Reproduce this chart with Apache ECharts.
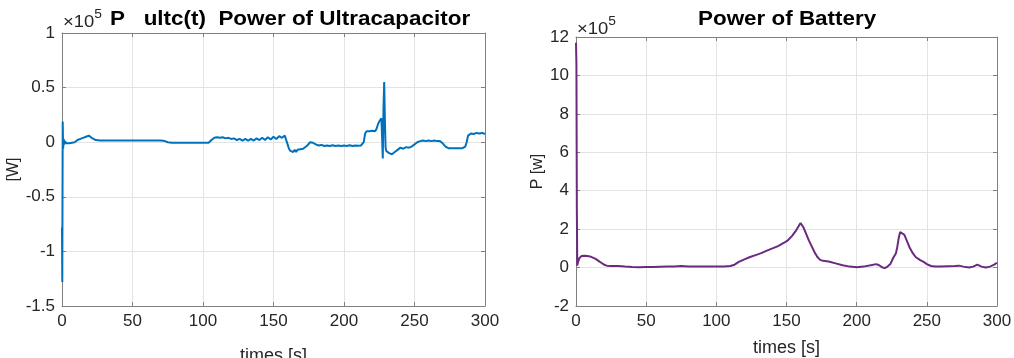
<!DOCTYPE html>
<html><head><meta charset="utf-8">
<script src="https://cdn.jsdelivr.net/npm/echarts@6/dist/echarts.min.js"></script>
<style>html,body{margin:0;padding:0;background:#fff}#c{width:1014px;height:358px}</style>
</head><body><div id="c"></div>
<script>
// Ultracapacitor power (x10^5 W)
const ultcTime = [0,0.2,0.5,0.8,1.2,1.6,2.2,3,4,5,6,7,8,9,10,11,12,13,14,15,16,17,18,19,20,21,22,24,27,30,35,40,45,50,55,60,65,70,73,75,78,85,90,95,100,104,106,108,110,112,114,116,118,120,122,124,126,128,130,132,134,136,138,140,142,144,146,148,150,152,154,156,158,159,160,161,162,163,164,165,166,167,168,169,170,171,172,174,176,177,178,180,182,184,186,188,190,192,194,196,198,200,202,204,206,208,210,212,214,215,216,218,220,222,223,224,225,226,226.5,227,227.5,228,228.5,229,229.5,230,231,232,233,234,235,236,237,238,240,242,244,246,248,250,252,254,256,258,260,262,264,266,268,270,272,274,276,280,284,286,287,288,290,292,294,296,298,300];
const ultcPower = [-0.78,-1.28,0.19,-0.06,0.03,-0.02,0.01,-0.01,0.0,-0.01,0.005,-0.005,0.01,0.0,0.01,0.02,0.015,0.03,0.025,0.04,0.035,0.05,0.055,0.06,0.055,0.04,0.03,0.02,0.015,0.015,0.015,0.015,0.015,0.015,0.015,0.015,0.015,0.015,0.01,0.0,-0.005,-0.005,-0.005,-0.005,-0.005,-0.005,0.02,0.04,0.045,0.04,0.045,0.035,0.04,0.03,0.035,0.02,0.03,0.015,0.03,0.015,0.03,0.015,0.035,0.02,0.04,0.02,0.045,0.025,0.05,0.03,0.055,0.04,0.06,0.05,-0.02,-0.06,-0.08,-0.07,-0.09,-0.07,-0.09,-0.07,-0.08,-0.065,-0.075,-0.06,-0.05,-0.03,0.0,0.01,-0.005,-0.02,-0.03,-0.025,-0.035,-0.03,-0.035,-0.028,-0.035,-0.03,-0.035,-0.03,-0.035,-0.028,-0.035,-0.03,-0.033,-0.03,0.0,0.08,0.1,0.1,0.105,0.1,0.12,0.16,0.19,0.2,0.22,0.05,-0.15,0.3,0.55,0.2,-0.05,-0.08,-0.09,-0.1,-0.09,-0.11,-0.1,-0.09,-0.1,-0.07,-0.05,-0.06,-0.045,-0.05,-0.04,-0.02,0.0,0.01,0.015,0.01,0.015,0.01,0.015,0.01,0.01,-0.01,-0.04,-0.055,-0.055,-0.055,-0.055,-0.04,0.0,0.06,0.08,0.075,0.085,0.08,0.085,0.075];
// Battery power (x10^5 W)
const battTime = [0,0.3,0.6,0.9,1.5,2.5,4,6,8,10,12,14,16,18,20,22,25,30,35,40,45,50,55,60,65,70,75,80,90,100,105,110,113,116,120,124,128,132,136,140,144,148,151,154,157,160,162,164,166,168,170,172,174,176,180,185,190,195,200,205,210,214,216,218,220,222,224,226,228,229,230,231,232,234,236,238,240,242,245,248,250,253,256,260,265,270,273,276,280,283,286,289,292,295,298,300];
const battPower = [11.7,10.6,3.0,0.1,0.3,0.5,0.6,0.62,0.6,0.58,0.52,0.45,0.35,0.25,0.15,0.1,0.08,0.08,0.05,0.03,0.02,0.03,0.03,0.04,0.05,0.06,0.08,0.05,0.05,0.05,0.05,0.08,0.15,0.3,0.43,0.55,0.65,0.75,0.88,1.0,1.12,1.28,1.42,1.65,1.95,2.32,2.1,1.75,1.4,1.1,0.8,0.55,0.4,0.35,0.32,0.22,0.12,0.05,0.02,0.05,0.12,0.18,0.12,0.02,-0.03,0.05,0.18,0.5,0.75,1.1,1.55,1.85,1.9,1.7,1.35,1.0,0.75,0.55,0.4,0.28,0.18,0.08,0.05,0.05,0.07,0.08,0.1,0.05,0.0,0.05,0.15,0.05,0.0,0.05,0.15,0.25];
const xTicks = [0, 50, 100, 150, 200, 250, 300];
const ultcYTicks = [-1.5, -1, -0.5, 0, 0.5, 1];
const battYTicks = [-2, 0, 2, 4, 6, 8, 10, 12];

const FONT = 'Liberation Sans, Arial, sans-serif';
const zip = (a, b) => a.map((t, i) => [t, b[i]]);
const chart = echarts.init(document.getElementById('c'), null, {renderer: 'canvas'});

const axisCommon = {
  axisLine: {show: true, onZero: false, lineStyle: {color: '#808080', width: 1}},
  axisTick: {show: true, inside: true, length: 4, lineStyle: {color: '#808080'}},
  axisLabel: {color: '#262626', fontSize: 17, fontFamily: FONT},
  splitLine: {show: true, lineStyle: {color: '#e3e3e3', width: 1}},
  nameTextStyle: {color: '#262626', fontSize: 16, fontFamily: FONT}
};
const xNameStyle = {color: '#262626', fontSize: 18, fontFamily: FONT};
function xAx(gi, extra) {
  return Object.assign({}, axisCommon, {
    type: 'value', gridIndex: gi, min: xTicks[0], max: xTicks[xTicks.length - 1], interval: xTicks[1] - xTicks[0],
    axisLabel: Object.assign({}, axisCommon.axisLabel, {margin: 7})
  }, extra);
}
function yAx(gi, ticks, extra) {
  return Object.assign({}, axisCommon, {
    type: 'value', gridIndex: gi, min: ticks[0], max: ticks[ticks.length - 1], interval: ticks[1] - ticks[0],
    axisLabel: Object.assign({}, axisCommon.axisLabel, {margin: 7})
  }, extra);
}
const mirror = {axisLabel: {show: false}, splitLine: {show: false}, name: ''};
const expRich = {a: {fontSize: 16, fontFamily: FONT, fill: '#262626', padding: [6, 0, 0, 0]}, s: {fontSize: 12, fontFamily: FONT, fill: '#262626', verticalAlign: 'top'}};

chart.setOption({
  animation: false,
  backgroundColor: '#ffffff',
  grid: [
    {left: 62, top: 33, width: 423, height: 273, containLabel: false, outerBoundsMode: 'none'},
    {left: 576, top: 37, width: 421, height: 269, containLabel: false, outerBoundsMode: 'none'}
  ],
  xAxis: [
    xAx(0, {name: 'times [s]', nameLocation: 'middle', nameGap: 41, nameTextStyle: xNameStyle}),
    xAx(1, {name: 'times [s]', nameLocation: 'middle', nameGap: 33, nameTextStyle: xNameStyle}),
    xAx(0, Object.assign({position: 'top'}, mirror)),
    xAx(1, Object.assign({position: 'top'}, mirror))
  ],
  yAxis: [
    yAx(0, ultcYTicks, {name: '[W]', nameLocation: 'middle', nameGap: 36}),
    yAx(1, battYTicks, {name: 'P [w]', nameLocation: 'middle', nameGap: 30}),
    yAx(0, ultcYTicks, Object.assign({position: 'right'}, mirror)),
    yAx(1, battYTicks, Object.assign({position: 'right'}, mirror))
  ],
  graphic: [
    {type: 'text', x: 63, y: 9, scaleX: 1.15, style: {text: '{a|×10}{s|5}', rich: expRich}},
    {type: 'text', x: 110, y: 10, scaleX: 1.15, style: {
      text: 'P   ultc(t)  Power of Ultracapacitor', fontSize: 19.5, fontWeight: 'bold', fontFamily: FONT, fill: '#000'}},
    {type: 'text', x: 577, y: 16, scaleX: 1.15, style: {text: '{a|×10}{s|5}', rich: expRich}},
    {type: 'text', x: 698, y: 10, scaleX: 1.15, style: {
      text: 'Power of Battery', fontSize: 19.5, fontWeight: 'bold', fontFamily: FONT, fill: '#000'}}
  ],
  series: [
    {type: 'line', xAxisIndex: 0, yAxisIndex: 0, data: zip(ultcTime, ultcPower), showSymbol: false,
      lineStyle: {color: '#0072BD', width: 2}, itemStyle: {color: '#0072BD'}},
    {type: 'line', xAxisIndex: 1, yAxisIndex: 1, data: zip(battTime, battPower), showSymbol: false,
      lineStyle: {color: '#6a2a7e', width: 2}, itemStyle: {color: '#6a2a7e'}}
  ]
});
</script></body></html>
